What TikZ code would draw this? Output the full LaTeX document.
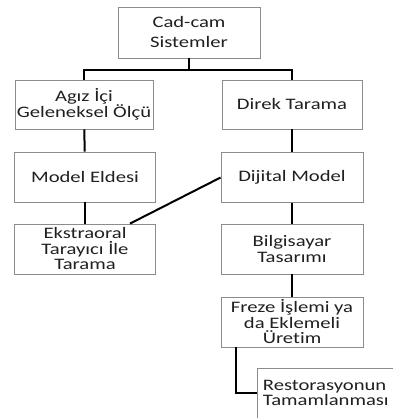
\documentclass[tikz,border=0pt]{standalone}
\usepackage{fontspec}
\setmainfont{Carlito}[FakeStretch=1.29, Ligatures={NoCommon}]
\usepackage{tikz}

\definecolor{boxgray}{HTML}{8C8C8C}
\definecolor{textgray}{HTML}{202020}

\tikzset{
    box/.style={draw=boxgray, line width=0.8pt, fill=white, align=center,
        text=textgray, inner sep=0pt, minimum width=141pt, minimum height=50pt,
        font=\fontsize{16}{15.5}\selectfont},
    link/.style={draw=black, line width=2pt}
}

\begin{document}
\begin{tikzpicture}[x=1pt,y=1pt]
    % Fix the frame of the page and cut what goes past it
    \clip (0,0) rectangle (393,418);

    % Draw the boxes
    \node[box, minimum width=142pt, minimum height=51pt,
        font=\fontsize{16}{20}\selectfont] (cad) at (189,385.5) {Cad-cam\\Sistemler};
    \node[box, minimum width=138pt, minimum height=49pt] (agiz) at (84,313.5) {Agız İçi\\Geleneksel Ölçü};
    \node[box, minimum width=140pt, minimum height=49pt] (direk) at (292,313.5) {Direk Tarama};
    \node[box] (model) at (85,241) {Model Eldesi};
    \node[box, minimum width=142pt] (dijital) at (292,240.5) {Dijital Model};
    \node[box] (ekstra) at (85,169) {Ekstraoral\\Tarayıcı İle\\Tarama};
    \node[box, minimum width=142pt] (bilgi) at (292,169) {Bilgisayar\\Tasarımı};
    \node[box, minimum width=142pt] (freze) at (292,96) {Freze İşlemi ya\\da Eklemeli\\Üretim};
    \node[box, anchor=west, align=left, text width=130pt, inner xsep=5pt] (resto) at (257,25) {Restorasyonun\\Tamamlanması};

    % Draw the connectors
    \draw[link] (cad.south) -- ++(0,-12) -| (agiz.north);
    \draw[link] (cad.south) -- ++(0,-12) -| (direk.north);
    \draw[link] (agiz) -- (model);
    \draw[link] (model) -- (ekstra);
    \draw[link] (direk) -- (dijital);
    \draw[link] (dijital) -- (bilgi);
    \draw[link] (bilgi) -- (freze);
    \draw[link] ([xshift=45pt]ekstra.north) -- (dijital.west);
    \draw[link] ([xshift=-56pt]freze.south) |- (resto.west);
\end{tikzpicture}
\end{document}
